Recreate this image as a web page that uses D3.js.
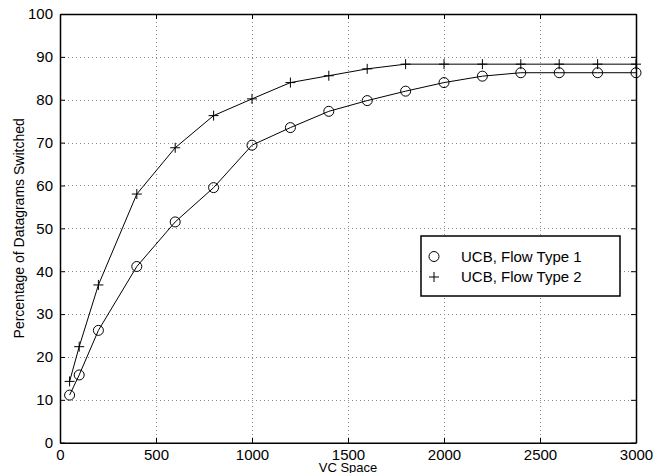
<!DOCTYPE html>
<html lang="en">
<head>
  <meta charset="UTF-8" />
  <title>VC Space</title>
  <script src="https://d3js.org/d3.v7.min.js"></script>
  <style>
    body { margin: 0; background: #fff; font-family: "Liberation Sans", Arial, sans-serif; }
    svg { display: block; }
    .grid line { stroke: #888; stroke-width: 1; stroke-dasharray: 1 3; }
    .tick-label { font-size: 15px; fill: #000; }
  </style>
</head>
<body>
  <svg id="chart" width="665" height="473"></svg>
  <script>
    const vcSpace = [50, 100, 200, 400, 600, 800, 1000, 1200, 1400, 1600, 1800, 2000, 2200, 2400, 2600, 2800, 3000];
    const flowType1 = [11.1, 15.8, 26.2, 41.1, 51.5, 59.5, 69.4, 73.5, 77.3, 79.8, 82.0, 84.0, 85.5, 86.3, 86.3, 86.3, 86.3];
    const flowType2 = [14.3, 22.4, 36.8, 58.0, 68.8, 76.3, 80.2, 84.0, 85.6, 87.2, 88.3, 88.3, 88.3, 88.3, 88.3, 88.3, 88.3];
    const xTicks = [0, 500, 1000, 1500, 2000, 2500, 3000];
    const yTicks = [0, 10, 20, 30, 40, 50, 60, 70, 80, 90, 100];
    const seriesNames = ["UCB, Flow Type 1", "UCB, Flow Type 2"];

    const svg = d3.select("#chart");
    const plotLeft = 60, plotRight = 636, plotTop = 14, plotBottom = 442.7;

    const x = d3.scaleLinear().domain([0, 3000]).range([plotLeft, plotRight]);
    const y = d3.scaleLinear().domain([0, 100]).range([plotBottom, plotTop]);

    // dotted grid
    const grid = svg.append("g").attr("class", "grid");
    grid.selectAll(".gx").data(xTicks.slice(1, -1)).join("line")
      .attr("x1", d => x(d) + 0.5).attr("x2", d => x(d) + 0.5)
      .attr("y1", plotTop).attr("y2", plotBottom);
    grid.selectAll(".gy").data(yTicks.slice(1, -1)).join("line")
      .attr("y1", d => Math.round(y(d)) + 0.5).attr("y2", d => Math.round(y(d)) + 0.5)
      .attr("x1", plotLeft).attr("x2", plotRight);

    // axes with inward ticks
    const fmt = d3.format("d");
    const xAxis = d3.axisBottom(x).tickValues(xTicks).tickFormat(fmt).tickSizeInner(-5).tickSizeOuter(0).tickPadding(7);
    const yAxis = d3.axisLeft(y).tickValues(yTicks).tickFormat(fmt).tickSizeInner(-5).tickSizeOuter(0).tickPadding(7);

    const gx = svg.append("g").attr("transform", `translate(0,${plotBottom})`).call(xAxis);
    const gy = svg.append("g").attr("transform", `translate(${plotLeft},0)`).call(yAxis);
    svg.append("g").attr("transform", `translate(0,${plotTop})`)
      .call(d3.axisTop(x).tickValues(xTicks).tickSizeInner(-5).tickSizeOuter(0).tickFormat(""));
    svg.append("g").attr("transform", `translate(${plotRight},0)`)
      .call(d3.axisRight(y).tickValues(yTicks).tickSizeInner(-5).tickSizeOuter(0).tickFormat(""));

    svg.selectAll(".domain").attr("stroke", "#000").attr("stroke-width", 1.5);
    svg.selectAll(".tick line").attr("stroke", "#000");
    gx.selectAll("text").attr("class", "tick-label").style("font-family", "Liberation Sans, Arial, sans-serif");
    gy.selectAll("text").attr("class", "tick-label").style("font-family", "Liberation Sans, Arial, sans-serif");

    // axis titles
    svg.append("text")
      .attr("x", 348).attr("y", 472)
      .attr("text-anchor", "middle").style("font-size", "13px").text("VC Space");
    svg.append("text")
      .attr("transform", `translate(24,${(plotTop + plotBottom) / 2}) rotate(-90)`)
      .attr("text-anchor", "middle").style("font-size", "14px").text("Percentage of Datagrams Switched");

    // lines
    const line = d3.line().x((d, i) => x(vcSpace[i])).y(d => y(d));
    svg.append("path").datum(flowType1).attr("d", line)
      .attr("fill", "none").attr("stroke", "#000").attr("stroke-width", 1);
    svg.append("path").datum(flowType2).attr("d", line)
      .attr("fill", "none").attr("stroke", "#000").attr("stroke-width", 1);

    // markers
    const circleMark = (g, cx, cy) => g.append("circle").attr("cx", cx).attr("cy", cy).attr("r", 5)
      .attr("fill", "none").attr("stroke", "#000").attr("stroke-width", 1);
    const plusMark = (g, cx, cy) => g.append("path")
      .attr("d", `M${cx - 5},${cy}H${cx + 5}M${cx},${cy - 5}V${cy + 5}`)
      .attr("stroke", "#000").attr("stroke-width", 1);

    const marks = svg.append("g");
    flowType1.forEach((v, i) => circleMark(marks, x(vcSpace[i]), y(v)));
    flowType2.forEach((v, i) => plusMark(marks, x(vcSpace[i]), y(v)));

    // legend
    const lg = svg.append("g");
    lg.append("rect").attr("x", 421).attr("y", 236).attr("width", 199).attr("height", 60)
      .attr("fill", "#fff").attr("stroke", "#000").attr("stroke-width", 1.5);
    circleMark(lg, 434, 256.5);
    plusMark(lg, 434, 277);
    lg.selectAll("text.leg").data(seriesNames).join("text")
      .attr("x", 461).attr("y", (d, i) => 261.5 + i * 20.5)
      .style("font-size", "15px").text(d => d);
  </script>
</body>
</html>
